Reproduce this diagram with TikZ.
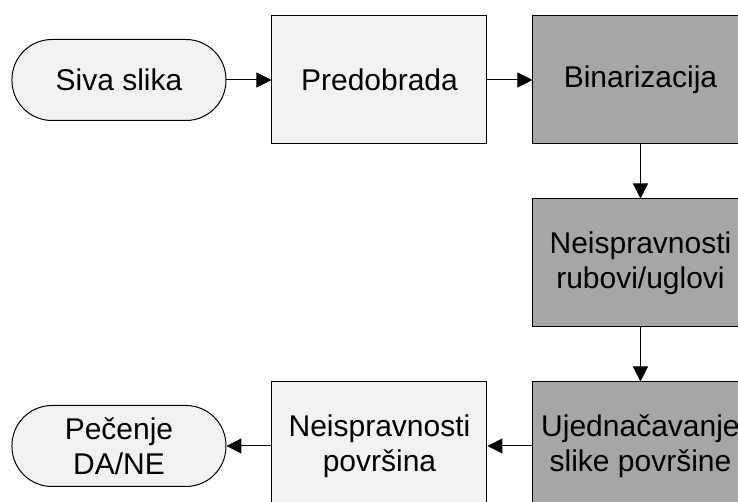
\documentclass[tikz,border=0pt]{standalone}
\usepackage{fontspec}
\setmainfont{Liberation Sans}
\definecolor{lightbox}{RGB}{242, 242, 242}
\definecolor{darkbox}{RGB}{166, 166, 166}
\usetikzlibrary{arrows.meta, positioning}

\tikzset{
  stagebox/.style={draw=black, line width=0.75pt, minimum width=161.25pt, minimum height=96pt,
    inner sep=0pt, align=center, font=\fontsize{22.5}{26}\selectfont},
  lightstage/.style={stagebox, fill=lightbox},
  darkstage/.style={stagebox, fill=darkbox},
  terminal/.style={draw=black, line width=0.75pt, fill=lightbox, rounded corners=30pt,
    minimum width=160.5pt, minimum height=60.75pt, inner sep=0pt, align=center,
    font=\fontsize{22.5}{26}\selectfont},
  flow/.style={-{Triangle[length=11.25pt, width=11.25pt]}, line width=0.75pt}
}

\begin{document}
\begin{tikzpicture}
  \useasboundingbox (0,0) rectangle (553.5pt,376.5pt);
  \clip (0,0) rectangle (553.5pt,376.5pt);

  % top row
  \node[lightstage] (predobrada) at (284.6pt,316.5pt) {Predobrada};
  \node[terminal, left=33.75pt of predobrada] (siva) {Siva slika};
  \node[darkstage, right=33.75pt of predobrada] (binarizacija) {Binarizacija};

  % right column
  \node[darkstage, below=40.5pt of binarizacija] (rubovi) {Neispravnosti\\rubovi/uglovi};
  \node[darkstage, below=40.5pt of rubovi] (ujednacavanje) {Ujedna\v{c}avanje\\slike povr\v{s}ine};

  % bottom row
  \node[lightstage, left=33.75pt of ujednacavanje] (povrsina) {Neispravnosti\\povr\v{s}ina};
  \node[terminal, left=33.75pt of povrsina] (pecenje) {Pe\v{c}enje\\DA/NE};

  \draw[flow] (siva) -- (predobrada);
  \draw[flow] (predobrada) -- (binarizacija);
  \draw[flow] (binarizacija) -- (rubovi);
  \draw[flow] (rubovi) -- (ujednacavanje);
  \draw[flow] (ujednacavanje) -- (povrsina);
  \draw[flow] (povrsina) -- (pecenje);
\end{tikzpicture}
\end{document}
